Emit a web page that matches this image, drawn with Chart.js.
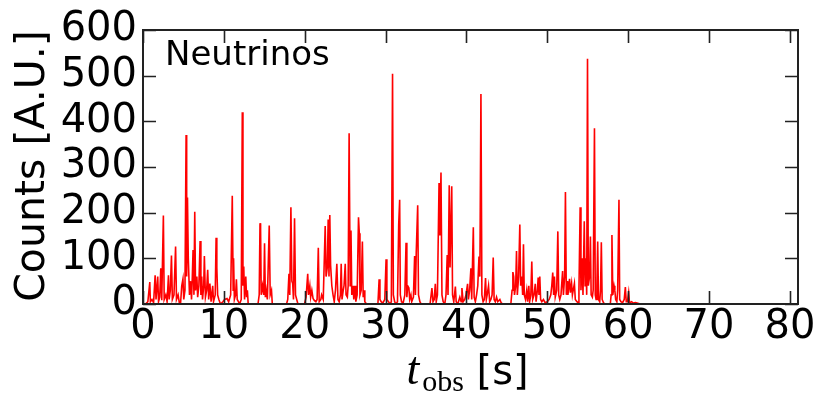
<!DOCTYPE html>
<html>
<head>
<meta charset="utf-8">
<script src="https://cdn.jsdelivr.net/npm/chart.js@4"></script>
<style>
  html, body { margin: 0; padding: 0; background: #fff; }
  #wrap { width: 819px; height: 396px; }
</style>
</head>
<body>
<div id="wrap"><canvas id="c" width="819" height="396"></canvas></div>
<script>
// valores (t en s, cuentas en A.U.)
const times = [
  0.0, 0.3, 0.6, 0.84, 0.91, 1.11, 1.31, 1.5, 1.61, 1.82, 1.92, 2.07, 2.2, 2.32, 2.52, 2.62, 2.82, 2.98, 3.15, 3.23,
  3.38, 3.52, 3.63, 3.83, 4.03, 4.14, 4.34, 4.49, 4.64, 4.79, 4.94, 5.04, 5.19, 5.33, 5.4, 5.5, 5.6, 5.75, 5.9, 6.0,
  6.1, 6.19, 6.3, 6.4, 6.5, 6.66, 6.76, 6.91, 7.06, 7.16, 7.26, 7.36, 7.51, 7.59, 7.72, 7.87, 8.0, 8.12, 8.27, 8.42,
  8.62, 8.72, 8.93, 9.04, 9.13, 9.23, 9.38, 9.58, 9.88, 10.09, 10.39, 10.59, 10.84, 11.04, 11.15, 11.2, 11.3, 11.45, 11.55, 11.65,
  11.8, 11.95, 12.15, 12.28, 12.36, 12.46, 12.56, 12.71, 12.81, 12.91, 13.01, 14.22, 14.37, 14.47, 14.54, 14.62, 14.78, 14.93, 15.03, 15.13,
  15.23, 15.38, 15.61, 15.73, 15.89, 15.99, 17.75, 17.9, 18.05, 18.15, 18.29, 18.41, 18.51, 18.61, 18.74, 18.86, 19.01, 19.16, 19.97, 20.17,
  20.37, 20.47, 20.63, 20.73, 20.88, 21.03, 21.18, 21.38, 21.53, 21.68, 21.79, 21.99, 22.09, 22.29, 22.53, 22.64, 22.79, 22.9, 23.0, 23.1,
  23.2, 23.35, 23.5, 23.65, 23.8, 23.97, 24.11, 24.26, 24.41, 24.51, 24.61, 24.76, 24.86, 25.01, 25.11, 25.27, 25.37, 25.49, 25.62, 25.72,
  25.82, 25.97, 26.07, 26.22, 26.32, 26.48, 26.65, 26.75, 26.83, 26.98, 27.13, 27.23, 27.33, 27.43, 27.64, 29.05, 29.2, 29.3, 29.45, 29.65,
  29.9, 30.06, 30.16, 30.36, 30.56, 30.71, 30.86, 30.96, 31.12, 31.27, 31.47, 31.62, 31.74, 31.82, 31.97, 32.17, 32.38, 32.53, 32.63, 32.73,
  32.88, 32.98, 33.13, 33.23, 33.44, 33.59, 33.69, 33.79, 33.97, 34.07, 34.24, 34.39, 35.5, 35.73, 35.86, 36.01, 36.15, 36.26, 36.41, 36.61,
  36.71, 36.85, 36.97, 37.12, 37.32, 37.47, 37.62, 37.72, 37.87, 37.97, 38.18, 38.28, 38.43, 38.63, 38.73, 38.93, 39.18, 39.34, 39.44, 39.59,
  39.79, 39.94, 40.14, 40.24, 40.39, 40.55, 40.65, 40.85, 40.95, 41.1, 41.25, 41.4, 41.55, 41.66, 41.79, 41.91, 42.06, 42.21, 42.36, 42.46,
  42.56, 42.73, 42.87, 43.02, 43.17, 43.31, 43.42, 43.57, 43.72, 43.87, 44.13, 44.28, 44.48, 45.49, 45.64, 45.74, 45.84, 45.94, 46.09, 46.19,
  46.29, 46.45, 46.6, 46.7, 46.85, 46.95, 47.05, 47.15, 47.3, 47.45, 47.56, 47.71, 47.81, 47.96, 48.08, 48.19, 48.36, 48.51, 48.61, 48.77,
  48.87, 48.97, 49.07, 49.17, 49.32, 49.52, 49.72, 49.98, 50.23, 50.43, 50.55, 50.67, 50.78, 50.88, 50.98, 51.16, 51.3, 51.41, 51.54, 51.69,
  51.89, 51.99, 52.14, 52.24, 52.35, 52.45, 52.55, 52.75, 52.85, 53.0, 53.1, 53.2, 53.35, 53.46, 53.66, 53.81, 53.91, 54.06, 54.16, 54.31,
  54.41, 54.57, 54.67, 54.77, 54.87, 54.97, 55.07, 55.22, 55.33, 55.42, 55.57, 55.67, 55.83, 55.93, 56.03, 56.13, 56.23, 56.33, 56.48, 56.58,
  56.68, 56.78, 56.94, 57.09, 57.79, 57.89, 57.99, 58.1, 58.25, 58.35, 58.45, 58.6, 58.7, 58.86, 58.95, 59.1, 59.31, 59.51, 59.65, 59.76,
  59.91, 60.06, 60.16, 60.42, 60.62, 60.92, 61.3, 61.5
];
const counts = [
  0, 0, 5, 48, 5, 10, 3, 63, 10, 60, 5, 15, 78, 8, 194, 10, 20, 5, 63, 10,
  30, 106, 10, 20, 126, 10, 20, 3, 0, 40, 55, 10, 30, 370, 60, 233, 100, 20, 50, 10,
  60, 118, 20, 202, 30, 60, 15, 40, 138, 20, 60, 10, 40, 105, 15, 30, 75, 10, 45, 5,
  40, 5, 20, 145, 80, 20, 10, 0, 5, 10, 12, 5, 20, 237, 30, 100, 10, 20, 54, 10,
  5, 0, 10, 420, 40, 82, 10, 60, 15, 30, 0, 0, 20, 177, 165, 20, 40, 20, 133, 15,
  30, 10, 172, 20, 30, 0, 0, 10, 66, 20, 212, 50, 45, 10, 188, 20, 10, 0, 0, 15,
  66, 20, 40, 15, 30, 12, 8, 5, 10, 123, 5, 10, 20, 10, 171, 60, 80, 185, 60, 195,
  85, 40, 20, 5, 30, 88, 10, 5, 20, 88, 10, 30, 40, 88, 20, 15, 40, 374, 40, 161,
  20, 40, 10, 40, 5, 20, 190, 155, 20, 30, 137, 15, 30, 5, 0, 0, 54, 10, 5, 2,
  10, 98, 10, 5, 0, 5, 504, 20, 5, 0, 5, 173, 228, 20, 5, 2, 20, 134, 15, 40,
  35, 10, 20, 5, 15, 105, 20, 112, 216, 20, 5, 0, 0, 35, 5, 10, 44, 5, 20, 265,
  150, 288, 20, 5, 0, 20, 107, 20, 260, 80, 258, 20, 5, 38, 5, 0, 15, 5, 35, 5,
  10, 20, 44, 10, 30, 78, 10, 168, 15, 5, 20, 40, 104, 60, 460, 20, 5, 10, 57, 10,
  20, 40, 5, 10, 20, 102, 10, 5, 15, 5, 10, 3, 0, 0, 30, 70, 60, 20, 40, 116,
  20, 60, 174, 40, 60, 20, 131, 20, 10, 30, 5, 40, 5, 20, 93, 10, 20, 44, 5, 30,
  58, 20, 60, 10, 5, 10, 3, 5, 10, 20, 40, 69, 20, 60, 15, 30, 159, 20, 10, 20,
  72, 20, 60, 245, 20, 50, 20, 55, 25, 45, 20, 30, 45, 10, 5, 3, 30, 212, 30, 100,
  20, 181, 40, 100, 20, 537, 40, 60, 148, 20, 15, 30, 385, 20, 10, 40, 137, 10, 5, 30,
  135, 10, 3, 0, 0, 20, 151, 20, 40, 30, 10, 5, 30, 228, 10, 5, 3, 10, 37, 5,
  5, 25, 3, 5, 2, 3, 1, 0
];
const xTicks = [0, 10, 20, 30, 40, 50, 60, 70, 80];
const yTicks = [0, 100, 200, 300, 400, 500, 600];
const seriesLabel = 'Neutrinos';
const xTitle = { main: 't', sub: 'obs', unit: ' [s]' };
const yTitle = 'Counts [A.U.]';

const AX = '#222';

// marco tipo matplotlib con ticks hacia dentro en los cuatro lados
const framePlugin = {
  id: 'frame',
  afterDraw(chart) {
    const { ctx, chartArea: a, scales } = chart;
    const tl = 13;
    ctx.save();
    ctx.strokeStyle = AX;
    ctx.lineWidth = 2;
    ctx.strokeRect(a.left, a.top, a.right - a.left, a.bottom - a.top);
    ctx.lineWidth = 1.6;
    ctx.beginPath();
    xTicks.forEach(v => {
      const px = Math.round(scales.x.getPixelForValue(v)) + 0.5;
      ctx.moveTo(px, a.bottom); ctx.lineTo(px, a.bottom - tl);
      ctx.moveTo(px, a.top); ctx.lineTo(px, a.top + tl);
    });
    yTicks.forEach(v => {
      const py = Math.round(scales.y.getPixelForValue(v)) + 0.5;
      ctx.moveTo(a.left, py); ctx.lineTo(a.left + tl, py);
      ctx.moveTo(a.right, py); ctx.lineTo(a.right - tl, py);
    });
    ctx.stroke();

    // etiqueta dentro del panel
    ctx.fillStyle = '#000';
    ctx.font = '34px "DejaVu Sans"';
    ctx.textAlign = 'left';
    ctx.textBaseline = 'alphabetic';
    ctx.fillText(seriesLabel, a.left + 22, 65);

    // título eje y
    ctx.save();
    ctx.translate(33, (a.top + a.bottom) / 2 - 1);
    ctx.rotate(-Math.PI / 2);
    ctx.textAlign = 'center';
    ctx.textBaseline = 'middle';
    ctx.font = '41px "DejaVu Sans"';
    ctx.fillText(yTitle, 0, 0);
    ctx.restore();

    // título eje x: t_obs [s]
    const fT = 'italic 46px "Liberation Serif"';
    const fS = '30px "Liberation Serif"';
    const fU = '40px "DejaVu Sans"';
    ctx.font = fT; const wT = ctx.measureText(xTitle.main).width;
    ctx.font = fS; const wS = ctx.measureText(xTitle.sub).width;
    ctx.font = fU; const wU = ctx.measureText(xTitle.unit).width;
    const total = wT + 3 + wS + wU;
    let x0 = (a.left + a.right) / 2 - total / 2 - 3;
    const base = 384;
    ctx.textAlign = 'left';
    ctx.textBaseline = 'alphabetic';
    ctx.font = fT; ctx.fillText(xTitle.main, x0, base); x0 += wT + 3;
    ctx.font = fS; ctx.fillText(xTitle.sub, x0, base + 7); x0 += wS;
    ctx.font = fU; ctx.fillText(xTitle.unit, x0, base);
    ctx.restore();
  }
};

new Chart(document.getElementById('c'), {
  type: 'line',
  data: {
    datasets: [{
      label: seriesLabel,
      data: times.map((t, i) => ({ x: t, y: counts[i] })),
      borderColor: '#ff0000',
      borderWidth: 1.6,
      pointRadius: 0,
      tension: 0,
      fill: false
    }]
  },
  options: {
    responsive: false,
    animation: false,
    layout: { padding: { top: 30, right: 21, left: 0, bottom: 0 } },
    plugins: { legend: { display: false }, tooltip: { enabled: false } },
    scales: {
      x: {
        type: 'linear', min: 0, max: 81,
        grid: { display: false, drawTicks: false },
        border: { display: false },
        afterBuildTicks: s => { s.ticks = xTicks.map(v => ({ value: v })); },
        afterFit: s => { s.height = 92; },
        ticks: { padding: 0, color: '#000', font: { family: 'DejaVu Sans', size: 40 }, maxRotation: 0, autoSkip: false }
      },
      y: {
        type: 'linear', min: 0, max: 600,
        grid: { display: false, drawTicks: false },
        border: { display: false },
        afterBuildTicks: s => { s.ticks = yTicks.map(v => ({ value: v })); },
        afterFit: s => { s.width = 143; },
        ticks: { padding: 6, color: '#000', font: { family: 'DejaVu Sans', size: 40 }, autoSkip: false }
      }
    }
  },
  plugins: [framePlugin]
});
</script>
</body>
</html>
